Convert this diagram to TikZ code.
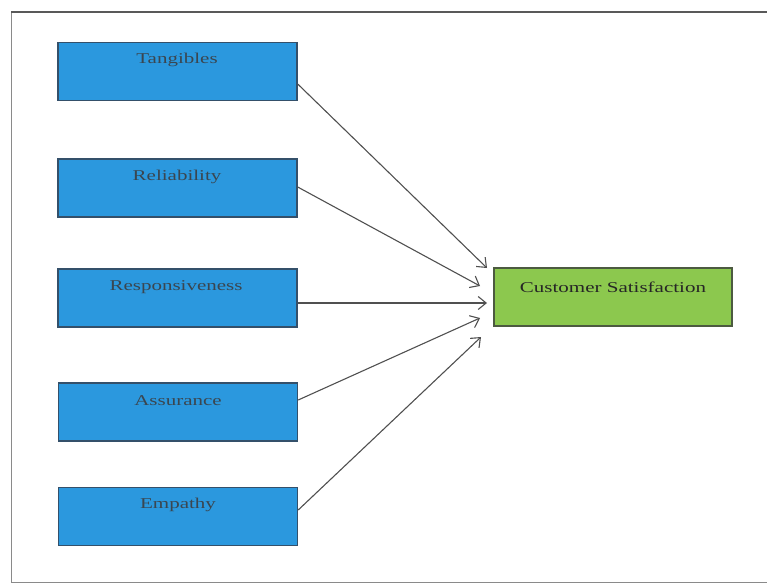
\documentclass[tikz,border=0pt]{standalone}
\usepackage{fontspec}
\setmainfont{Liberation Serif}[FakeStretch=1.4]
\usetikzlibrary{arrows.meta}
\definecolor{boxblue}{HTML}{2B98DE}
\definecolor{boxblueline}{HTML}{34506A}
\definecolor{boxgreen}{HTML}{8CC84E}
\definecolor{boxgreenline}{HTML}{4C5A40}
\definecolor{txtgray}{HTML}{3A4650}
\definecolor{arrowgray}{HTML}{505050}
\definecolor{framegray}{HTML}{8A8A8A}
\begin{document}
\begin{tikzpicture}[x=1pt,y=-1pt,
  factor/.style={draw=boxblueline, line width=1.4pt, fill=boxblue, minimum width=239pt, minimum height=58pt, inner sep=0pt},
  outcome/.style={draw=boxgreenline, line width=1.4pt, fill=boxgreen, minimum width=238pt, minimum height=58pt, inner sep=0pt},
  boxtext/.style={font=\fontsize{15}{18}\selectfont, text=txtgray, inner sep=0pt, anchor=center},
  link/.style={draw=arrowgray, line width=1.1pt, -{Straight Barb[length=8pt,width=13pt,line width=1.1pt]}}
]
\useasboundingbox (0,0) rectangle (767,583);
% frame
\draw[framegray, line width=1pt] (11,12) -- (11,582) -- (767,582);
\draw[black!65, line width=1.6pt] (11,12) -- (767,12);

% factor boxes
\node[factor] (tan) at (177.5,71.5) {};
\node[factor] (rel) at (177.5,188) {};
\node[factor] (res) at (177.5,298) {};
\node[factor] (ass) at (178,412) {};
\node[factor] (emp) at (178,516.5) {};
\node[outcome] (cs) at (613,297) {};

\node[boxtext] (tant) at (177,60) {Tangibles};
\node[boxtext] (relt) at (177,177) {Reliability};
\node[boxtext] (rest) at (176,287) {Responsiveness};
\node[boxtext] (asst) at (178,401) {Assurance};
\node[boxtext] (empt) at (178,505) {Empathy};
\node[boxtext, text=black!85] (cst) at (613,287) {Customer Satisfaction};

% arrow end points
\coordinate (e1) at (487,268);
\coordinate (e2) at (480,286);
\coordinate (e3) at (487,303);
\coordinate (e4) at (480,318);
\coordinate (e5) at (481,337);

\draw[link] ([yshift=-12.5pt]tan.east) -- (e1);
\draw[link] ([yshift=1pt]rel.east) -- (e2);
\draw[link] ([yshift=-5pt]res.east) -- (e3);
\draw[link] ([yshift=12pt]ass.east) -- (e4);
\draw[link] ([yshift=6.5pt]emp.east) -- (e5);
\end{tikzpicture}
\end{document}
